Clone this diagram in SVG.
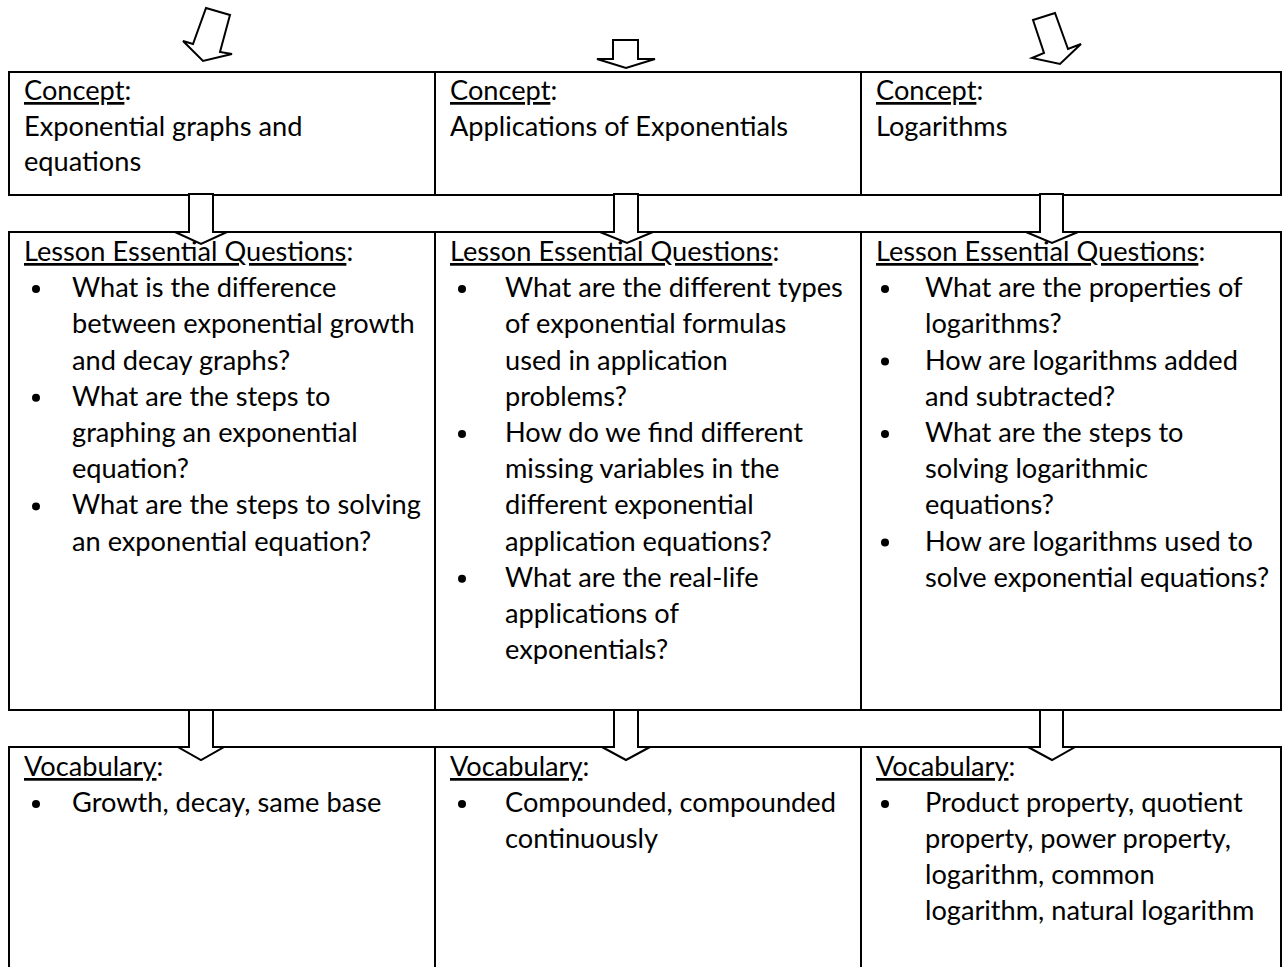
<svg xmlns="http://www.w3.org/2000/svg" width="1282" height="967" viewBox="0 0 1282 967">
<style>
.cell{fill:#fff;stroke:#000;stroke-width:2}
.arr{fill:#fff;stroke:#000;stroke-width:2;stroke-linejoin:miter}
text{font-family:Lato,"Open Sans","Liberation Sans",sans-serif;font-size:27.2px;fill:#000}
.u{text-decoration:underline}
.dot{fill:#000}
</style>
<rect width="1282" height="967" fill="#fff"/>
<g id="concept-1"><rect class="cell" x="9" y="72" width="426" height="123"/>
<text x="24" y="100"><tspan class="u">Concept</tspan>:</text>
<text x="24" y="135.5">Exponential graphs and</text>
<text x="24" y="171">equations</text></g>
<g id="concept-2"><rect class="cell" x="435" y="72" width="426" height="123"/>
<text x="450" y="100"><tspan class="u">Concept</tspan>:</text>
<text x="450" y="135.5">Applications of Exponentials</text></g>
<g id="concept-3"><rect class="cell" x="861" y="72" width="420" height="123"/>
<text x="876" y="100"><tspan class="u">Concept</tspan>:</text>
<text x="876" y="135.5">Logarithms</text></g>

<g id="leq-1"><rect class="cell" x="9" y="232" width="426" height="478"/>
<text x="24" y="261"><tspan class="u">Lesson Essential Questions</tspan>:</text>
<circle class="dot" cx="36" cy="289" r="4"/>
<text x="72" y="297.2">What is the difference</text>
<text x="72" y="333.4">between exponential growth</text>
<text x="72" y="369.6">and decay graphs?</text>
<circle class="dot" cx="36" cy="397.8" r="4"/>
<text x="72" y="405.8">What are the steps to</text>
<text x="72" y="442">graphing an exponential</text>
<text x="72" y="478.2">equation?</text>
<circle class="dot" cx="36" cy="506.4" r="4"/>
<text x="72" y="514.4">What are the steps to solving</text>
<text x="72" y="550.6">an exponential equation?</text></g>

<g id="leq-2"><rect class="cell" x="435" y="232" width="426" height="478"/>
<text x="450" y="261"><tspan class="u">Lesson Essential Questions</tspan>:</text>
<circle class="dot" cx="462" cy="289" r="4"/>
<text x="505" y="297.2">What are the different types</text>
<text x="505" y="333.4">of exponential formulas</text>
<text x="505" y="369.6">used in application</text>
<text x="505" y="405.8">problems?</text>
<circle class="dot" cx="462" cy="434" r="4"/>
<text x="505" y="442">How do we find different</text>
<text x="505" y="478.2">missing variables in the</text>
<text x="505" y="514.4">different exponential</text>
<text x="505" y="550.6">application equations?</text>
<circle class="dot" cx="462" cy="578.8" r="4"/>
<text x="505" y="586.8">What are the real-life</text>
<text x="505" y="623">applications of</text>
<text x="505" y="659.2">exponentials?</text></g>

<g id="leq-3"><rect class="cell" x="861" y="232" width="420" height="478"/>
<text x="876" y="261"><tspan class="u">Lesson Essential Questions</tspan>:</text>
<circle class="dot" cx="885" cy="289" r="4"/>
<text x="925" y="297.2">What are the properties of</text>
<text x="925" y="333.4">logarithms?</text>
<circle class="dot" cx="885" cy="361.6" r="4"/>
<text x="925" y="369.6">How are logarithms added</text>
<text x="925" y="405.8">and subtracted?</text>
<circle class="dot" cx="885" cy="434" r="4"/>
<text x="925" y="442">What are the steps to</text>
<text x="925" y="478.2">solving logarithmic</text>
<text x="925" y="514.4">equations?</text>
<circle class="dot" cx="885" cy="542.6" r="4"/>
<text x="925" y="550.6">How are logarithms used to</text>
<text x="925" y="586.8">solve exponential equations?</text></g>

<g id="vocab-1"><rect class="cell" x="9" y="747" width="426" height="240"/>
<text x="24" y="776"><tspan class="u">Vocabulary</tspan>:</text>
<circle class="dot" cx="36" cy="804" r="4"/>
<text x="72" y="812">Growth, decay, same base</text></g>
<g id="vocab-2"><rect class="cell" x="435" y="747" width="426" height="240"/>
<text x="450" y="776"><tspan class="u">Vocabulary</tspan>:</text>
<circle class="dot" cx="462" cy="804" r="4"/>
<text x="505" y="812">Compounded, compounded</text>
<text x="505" y="848">continuously</text></g>
<g id="vocab-3"><rect class="cell" x="861" y="747" width="420" height="240"/>
<text x="876" y="776"><tspan class="u">Vocabulary</tspan>:</text>
<circle class="dot" cx="885" cy="804" r="4"/>
<text x="925" y="812">Product property, quotient</text>
<text x="925" y="848">property, power property,</text>
<text x="925" y="884">logarithm, common</text>
<text x="925" y="920">logarithm, natural logarithm</text></g>

<g id="connectors">
<polygon class="arr" points="206,8 230,15 220,52 232,54 203,61 183,41 193,44"/>
<polygon class="arr" points="613,40 638,40 638,59 655,59 626,68 597,59 613,59"/>
<polygon class="arr" points="1033,20 1055,13 1068,49 1081,44 1060,64 1032,58 1044,53"/>
<polygon class="arr" points="189,194 213,194 213,232 227,232 201,244 175,232 189,232"/>
<polygon class="arr" points="614,194 638,194 638,232 653,232 627,243 600,232 614,232"/>
<polygon class="arr" points="1040,194 1063,194 1063,232 1078,232 1052,243 1026,232 1040,232"/>
<polygon class="arr" points="189,710 213,710 213,747 224,747 201,760 178,747 189,747"/>
<polygon class="arr" points="614,710 638,710 638,747 650,747 626,760 602,747 614,747"/>
<polygon class="arr" points="1040,710 1063,710 1063,747 1075,747 1052,760 1028,747 1040,747"/>
</g>
</svg>
